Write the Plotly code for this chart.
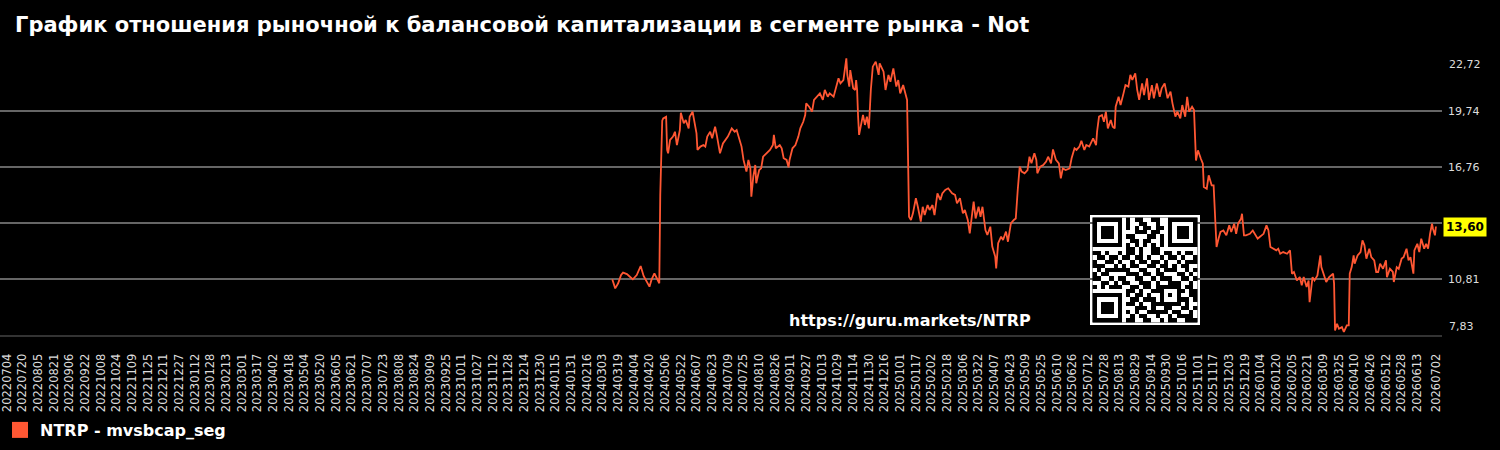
import pandas as pd
import plotly.graph_objects as go

# ---------------- data ----------------
start_date = "2022-07-04"
series_name = "NTRP - mvsbcap_seg"

day_offsets = [
    618, 621, 624, 627, 629, 633, 636, 639, 643, 647, 650, 652, 656, 658, 661, 663, 666,
    667, 669, 670, 673, 674, 675, 677, 680, 682, 684, 687, 688, 691, 693, 696, 697, 700,
    702, 704, 705, 708, 711, 713, 715, 718, 720, 723, 725, 728, 731, 734, 736, 740, 743,
    745, 748, 750, 752, 755, 757, 759, 760, 762, 764, 765, 768, 770, 772, 776, 779, 782,
    783, 785, 789, 791, 793, 796, 798, 799, 802, 805, 808, 810, 813, 815, 816, 819, 822,
    824, 827, 830, 833, 835, 838, 840, 844, 846, 849, 851, 854, 857, 858, 860, 861, 864,
    866, 867, 868, 869, 870, 872, 874, 876, 878, 880, 882, 884, 887, 890,
    891, 895, 897, 900, 902, 905, 908, 910, 912, 915, 918, 919, 921, 923, 925, 928, 930,
    933, 935, 937, 940, 942, 945, 947, 950, 953, 955, 958, 961, 965, 968, 970, 973, 976,
    978, 981, 983, 985, 987, 989, 992, 994, 996, 999, 1001, 1004, 1006, 1009, 1010, 1012,
    1015, 1017, 1020, 1022, 1025, 1028, 1030, 1032, 1034, 1036, 1039, 1042, 1044, 1046,
    1049, 1051, 1052, 1055, 1058, 1061, 1063, 1066, 1068, 1071, 1074, 1076, 1078, 1081,
    1085, 1087, 1090, 1092, 1095, 1097, 1100, 1102, 1105, 1109, 1112, 1113, 1115, 1118,
    1120, 1122, 1124, 1127, 1129, 1131, 1132, 1135, 1137, 1140, 1142, 1145, 1147, 1149,
    1152, 1154, 1156, 1159, 1161, 1164, 1166, 1169, 1171, 1174, 1177, 1179, 1182, 1185,
    1188, 1190, 1193, 1195, 1198, 1200, 1203, 1205, 1207, 1210, 1212,
    1214, 1216, 1219, 1221, 1222, 1225, 1227, 1230, 1232, 1233, 1235, 1237, 1239, 1242,
    1245, 1248, 1250, 1253, 1255, 1257, 1260, 1261, 1263, 1265, 1269, 1272, 1274, 1277,
    1279, 1283, 1286, 1288, 1290, 1293, 1296, 1298, 1300, 1303, 1307, 1310, 1312, 1314,
    1317, 1320, 1322, 1324, 1327, 1329, 1330, 1333, 1335, 1338, 1341, 1342, 1345, 1347,
    1350, 1354, 1355, 1356, 1358, 1360, 1363, 1365, 1368, 1370, 1371, 1373, 1375, 1376,
    1379, 1382, 1384, 1386, 1388, 1391, 1393, 1396, 1398, 1400, 1402, 1405, 1408, 1409,
    1412, 1415, 1416, 1419, 1421, 1424, 1426, 1429, 1431, 1433, 1436, 1437, 1440, 1442,
    1444, 1447, 1449, 1451, 1453, 1455, 1456, 1458, 1459,
]

values = [
    10.79, 10.31, 10.58, 11.02, 11.15, 11.07, 10.93, 10.79, 11.02, 11.50, 10.97, 10.76, 10.40, 10.76, 11.11, 10.90, 10.58,
    15.28, 19.23, 19.35, 19.44, 17.67, 17.49, 18.20, 18.38, 18.64, 17.93, 18.73, 19.65, 19.09, 19.26, 18.82, 19.44, 19.71,
    19.17, 18.55, 17.67, 17.85, 17.93, 17.85, 18.38, 18.64, 18.29, 18.91, 18.38, 17.49, 18.02, 18.20, 18.38, 18.82, 18.64,
    18.73, 18.20, 17.85, 17.14, 16.52, 17.14, 16.69, 15.19, 16.25, 16.87, 15.90, 16.60, 16.69, 17.31, 17.49, 17.67, 17.93,
    18.47, 17.76, 17.93, 17.76, 17.23, 17.14, 16.75, 17.14, 17.76, 17.93, 18.38, 18.82, 19.17, 19.53, 20.15, 19.97, 19.71,
    20.33, 20.50, 20.68, 20.33, 20.86, 20.50, 20.68, 20.50, 20.86, 21.48, 21.21, 21.39, 22.54, 21.66, 21.04, 21.92, 20.95,
    20.86, 21.39, 20.86, 19.44, 18.47, 19.00, 19.53, 19.00, 19.44, 18.82, 20.86, 22.10, 22.37, 21.66,
    22.28, 21.83, 20.86, 21.66, 21.30, 22.01, 21.04, 21.39, 20.68, 21.12, 20.50, 20.33, 14.12, 13.95, 14.30, 15.10, 14.65,
    13.86, 14.65, 14.21, 14.74, 14.48, 14.74, 14.21, 15.36, 15.01, 15.36, 15.54, 15.63, 15.36, 15.28, 14.83, 15.10, 14.30,
    14.48, 13.95, 13.24, 14.21, 14.92, 14.03, 14.65, 14.12, 14.65, 13.41, 13.15, 13.59, 12.53, 12.00, 11.37, 12.71,
    13.06, 12.88, 13.33, 12.79, 13.77, 13.95, 14.03, 15.54, 16.78, 16.52, 16.43, 16.60, 17.31, 16.96,
    17.49, 17.14, 16.43, 16.78, 16.87, 17.05, 17.31, 16.96, 17.70, 17.14, 16.96, 16.16, 16.69, 16.60,
    16.69, 17.23, 17.76, 17.67, 17.85, 18.16, 17.67, 17.93, 17.85, 18.29, 17.93, 18.64, 19.44, 19.53,
    19.17, 19.71, 18.82, 19.26, 18.91, 18.82, 19.97, 20.50, 20.06, 20.68, 21.12, 21.04, 21.66, 21.39,
    21.75, 20.86, 20.33, 21.21, 20.59, 21.48, 20.33, 21.12, 20.42, 21.21, 20.50, 20.95, 21.21, 20.42,
    20.77, 20.15, 19.44, 19.71, 19.35, 20.06, 19.44, 20.50, 19.71, 19.97, 19.79,
    17.11, 17.65, 17.20, 16.94, 15.70, 15.61, 16.32, 15.79, 15.79, 14.81, 12.51, 12.95, 13.31, 13.39,
    13.13, 13.66, 13.31, 13.75, 13.21, 13.75, 14.01, 14.28, 13.13, 13.13, 13.21, 13.39, 13.21, 12.95,
    13.04, 13.21, 13.66, 13.39, 12.51, 12.42, 12.33, 12.42, 12.15, 12.24, 12.15, 12.33, 11.09, 11.18,
    10.73, 10.91, 10.47, 10.91, 10.38, 10.73, 9.58, 10.91, 10.73, 11.00, 12.06, 11.44, 10.91, 10.65,
    10.91, 11.09, 10.56, 8.07, 8.43, 8.16, 8.25, 7.99, 8.34, 8.34, 11.09, 11.44, 12.06, 11.62,
    12.06, 12.24, 12.86, 12.60, 11.89, 12.42, 11.97, 11.80, 11.18, 11.18, 11.62, 11.35, 11.80, 10.91,
    11.35, 11.18, 10.65, 11.44, 11.35, 11.89, 11.97, 12.42, 11.80, 11.97, 11.09, 12.33, 12.68, 12.24,
    12.95, 12.42, 12.68, 12.42, 13.21, 13.75, 13.48, 13.13, 13.60,
]

# axis ticks
x_tick_start = "2022-07-04"
x_tick_step_days = 16
x_tick_count = 91
x_last_tick = "2026-07-02"
y_ticks = [7.83, 10.81, 13.78, 16.76, 19.74, 22.72]

title_text = "График отношения рыночной к балансовой капитализации в сегменте рынка - Not"
url_text = "https://guru.markets/NTRP"

qr_rows = [
    "1111111" + "0" + "101100110" + "0" + "1111111",
    "1000001" + "0" + "100110010" + "0" + "1000001",
    "1011101" + "0" + "101011011" + "0" + "1011101",
    "1011101" + "0" + "001110110" + "0" + "1011101",
    "1011101" + "0" + "110001101" + "0" + "1011101",
    "1000001" + "0" + "011011001" + "0" + "1000001",
    "1111111" + "0" + "101010101" + "0" + "1111111",
    "00000000" + "110100110" + "00000000",
    "110100" + "1" + "011010011011010110",
    "011011" + "0" + "110110100101101001",
    "100110" + "1" + "001011011010010111",
    "111001" + "0" + "101100110110101100",
    "010111" + "1" + "110011001011100101",
    "101100" + "0" + "011101101100011010",
    "110010" + "1" + "100110010111001101",
    "001101" + "0" + "110011101001110010",
    "101011" + "1" + "001101101" + "11111" + "0110",
    "00000000" + "1" + "1010011" + "10001" + "1011",
    "1111111" + "0" + "10110100" + "10101" + "0011",
    "1000001" + "0" + "01101110" + "10001" + "1101",
    "1011101" + "0" + "11010011" + "11111" + "0100",
    "1011101" + "0" + "00111010" + "011001101",
    "1011101" + "0" + "10100111" + "110110010",
    "1000001" + "0" + "01011001" + "001011110",
    "1111111" + "0" + "11001100" + "101100111",
]

# ---------------- build ----------------
dates = pd.Timestamp(start_date) + pd.to_timedelta(day_offsets, unit="D")
tick_dates = list(pd.date_range(x_tick_start, periods=x_tick_count,
                                freq=f"{x_tick_step_days}D")) + [pd.Timestamp(x_last_tick)]
tick_text = [d.strftime("%Y%m%d") for d in tick_dates]


def fmt(v):
    return f"{v:.2f}".replace(".", ",")


LINE_COLOR = "#FF5733"
W, H = 1500, 450
PL, PR, PT, PB = 0, 58, 55, 115
plot_w = W - PL - PR
plot_h = H - PT - PB


def px_x(px):
    return (px - PL) / plot_w


def px_y(py):
    return (H - PB - py) / plot_h


fig = go.Figure()

fig.add_trace(go.Scatter(
    x=dates, y=values, mode="lines", name=series_name,
    line=dict(color=LINE_COLOR, width=1.8), showlegend=False,
    hoverinfo="x+y",
))
fig.add_trace(go.Scatter(
    x=[None], y=[None], mode="markers", name=series_name,
    marker=dict(symbol="square", size=16, color=LINE_COLOR, line=dict(width=0)),
    showlegend=True,
))

qr_z = [[int(c) for c in row] for row in qr_rows]
fig.add_trace(go.Heatmap(
    z=qr_z, xaxis="x2", yaxis="y2", showscale=False, hoverinfo="skip",
    colorscale=[[0, "#ffffff"], [1, "#000000"]], zmin=0, zmax=1,
))

x_range = [pd.Timestamp(start_date) - pd.Timedelta(hours=172),
           pd.Timestamp(start_date) + pd.Timedelta(hours=1465.2 * 24)]

y_ticktext = []
for i, v in enumerate(y_ticks):
    if i == 0:
        continue
    # top label drawn as annotation (shifted inward); 13,78 hidden behind last-value badge
    y_ticktext.append("" if (i == len(y_ticks) - 1 or i == 2) else fmt(v))

fig.update_layout(
    width=W, height=H,
    margin=dict(l=PL, r=PR, t=PT, b=PB, autoexpand=False),
    paper_bgcolor="#000000", plot_bgcolor="#000000",
    font=dict(family="DejaVu Sans", color="#ffffff"),
    title=dict(text=title_text, x=15 / W, xanchor="left", xref="container",
               y=1 - 25 / H, yanchor="middle", yref="container",
               font=dict(size=21, color="#ffffff", family="DejaVu Sans", weight="bold")),
    xaxis=dict(
        type="date", range=x_range, tickmode="array", tickvals=tick_dates, ticktext=tick_text,
        tickangle=-90, tickfont=dict(size=11.5, color="#dddddd"),
        showgrid=False, zeroline=False, showline=True, linecolor="#333333", linewidth=2,
        ticks="", ticklabelstandoff=12, automargin=False, ticklabeloverflow="allow",
    ),
    yaxis=dict(
        side="right", range=[y_ticks[0], y_ticks[-1]], tickmode="array",
        tickvals=y_ticks[1:], ticktext=y_ticktext,
        tickfont=dict(size=11, color="#dddddd"),
        showgrid=True, gridcolor="#666666", gridwidth=1.5, zeroline=False,
        showline=False, ticks="", ticklabelstandoff=5, automargin=False,
    ),
    xaxis2=dict(domain=[px_x(1092.5), px_x(1197.5)], anchor="y2", visible=False,
                range=[-0.5, 24.5], fixedrange=True),
    yaxis2=dict(domain=[px_y(322.5), px_y(217.5)], anchor="x2", visible=False,
                range=[24.5, -0.5], fixedrange=True),
    legend=dict(x=0.0, xref="container", xanchor="left", y=1 - 430 / H, yref="container",
                yanchor="middle", bgcolor="rgba(0,0,0,0)",
                font=dict(size=16, color="#ffffff", family="DejaVu Sans", weight="bold")),
    shapes=[dict(type="rect", xref="paper", yref="paper",
                 x0=px_x(1090), x1=px_x(1200), y0=px_y(325), y1=px_y(215),
                 fillcolor="#ffffff", line=dict(width=0), layer="below")],
    annotations=[
        dict(text=fmt(y_ticks[-1]), x=1, xref="paper", xanchor="left", xshift=5,
             y=y_ticks[-1], yref="y", yanchor="middle", yshift=-9, showarrow=False,
             font=dict(size=11, color="#dddddd")),
        dict(text=fmt(y_ticks[0]), x=1, xref="paper", xanchor="left", xshift=5,
             y=y_ticks[0], yref="y", yanchor="middle", yshift=9, showarrow=False,
             font=dict(size=11, color="#dddddd")),
        dict(text=fmt(values[-1]), x=1, xref="paper", xanchor="left", xshift=1,
             y=values[-1], yref="y", yanchor="middle", showarrow=False,
             bgcolor="#ffff00", borderpad=2,
             font=dict(size=12, color="#000000", weight="bold")),
        dict(text=url_text, x=px_x(909.5), xref="paper", xanchor="center",
             y=px_y(320), yref="paper", yanchor="middle", showarrow=False,
             font=dict(size=16, color="#ffffff", weight="bold")),
    ],
)

fig.write_html("out.html")
